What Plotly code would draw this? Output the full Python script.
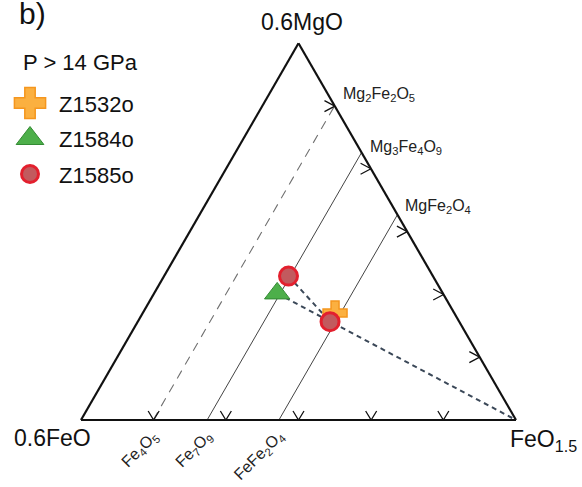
import math
import plotly.graph_objects as go

W, H = 582, 487

# ---------------- data (ternary: a = 0.6MgO, b = 0.6FeO, c = FeO1.5) ----------------
vertex_labels = ["0.6MgO", "0.6FeO", "FeO<sub>1.5</sub>"]
panel_label = "b)"
legend_title = "P > 14 GPa"
series_names = ["Z1532o", "Z1584o", "Z1585o"]

z1532o_a = [0.284]
z1532o_b = [0.274]
z1532o_c = [0.442]

z1584o_a = [0.336]
z1584o_b = [0.381]
z1584o_c = [0.283]

z1585o_a = [0.382, 0.261]
z1585o_b = [0.332, 0.297]
z1585o_c = [0.286, 0.442]

# Fe-oxide / Mg-Fe-oxide joins (constant FeO1.5 fraction)
join_c = [0.166, 0.290, 0.455]
join_bottom_labels = ["Fe<sub>4</sub>O<sub>5</sub>", "Fe<sub>7</sub>O<sub>9</sub>",
                      "FeFe<sub>2</sub>O<sub>4</sub>"]
join_right_labels = ["Mg<sub>2</sub>Fe<sub>2</sub>O<sub>5</sub>",
                     "Mg<sub>3</sub>Fe<sub>4</sub>O<sub>9</sub>",
                     "MgFe<sub>2</sub>O<sub>4</sub>"]

# arrow-tick fractions along the bottom and right edges
tick_fracs = [0.167, 0.333, 0.500, 0.667, 0.833]

# ---------------- styles ----------------
FONT = "Arial, 'Liberation Sans', Helvetica, sans-serif"
join_styles = [dict(color="#707070", width=1.1, dash="9px,7px"),
               dict(color="#444444", width=1.0),
               dict(color="#444444", width=1.0)]
tie_style = dict(color="#3b4858", width=2, dash="5px,4px")
marker_styles = [
    dict(symbol="cross", size=20, color="#FBB040", line=dict(color="#F5961E", width=1.5)),
    dict(symbol="triangle-up", size=22, color="#4DAF4A", line=dict(color="#338A33", width=1)),
    dict(symbol="circle", size=18, color="#C25A5E", line=dict(color="#E3202E", width=3)),
]
legend_marker_sizes = [26, 24, 17]

# ---------------- geometry ----------------
TRI_L, TRI_R, TRI_B = 81.0, 516.0, 420.0
SIDE = TRI_R - TRI_L
S3 = math.sqrt(3) / 2
TRI_H = SIDE * S3
TRI_T = TRI_B - TRI_H


def cart_to_tern(x, y):
    a = y / S3
    c = x - a / 2
    return a, 1 - a - c, c


def tern_to_px(a, b, c):
    s = a + b + c
    return TRI_L + SIDE * (c + a / 2) / s, TRI_B - TRI_H * a / s


def px_to_paper(x, y):
    return x / W, 1 - y / H


fig = go.Figure()

# join lines
for cval, st in zip(join_c, join_styles):
    fig.add_trace(go.Scatterternary(
        a=[0, 1 - cval], b=[1 - cval, 0], c=[cval, cval], mode="lines",
        line=st, showlegend=False, hoverinfo="skip"))

# arrow ticks
ta, tb, tc = [], [], []
CH_HALF = 5.5 / SIDE
CH_LEN = 9.0 / SIDE
for f in tick_fracs:
    for (x, y) in [(f - CH_HALF, CH_LEN), (f, 0.0), (f + CH_HALF, CH_LEN)]:
        a, b, c = cart_to_tern(x, y)
        ta.append(a); tb.append(b); tc.append(c)
    ta.append(None); tb.append(None); tc.append(None)
    ex, ey = 0.5 + 0.5 * f, S3 * (1 - f)
    for (x, y) in [(ex - 1.15 * CH_LEN, ey + CH_HALF), (ex, ey), (ex - 1.15 * CH_LEN, ey - CH_HALF)]:
        a, b, c = cart_to_tern(x, y)
        ta.append(a); tb.append(b); tc.append(c)
    ta.append(None); tb.append(None); tc.append(None)
fig.add_trace(go.Scatterternary(a=ta, b=tb, c=tc, mode="lines",
                                line=dict(color="#111111", width=1.3),
                                showlegend=False, hoverinfo="skip", connectgaps=False))

# tie lines
fig.add_trace(go.Scatterternary(a=[z1584o_a[0], 0], b=[z1584o_b[0], 0], c=[z1584o_c[0], 1],
                                mode="lines", line=tie_style, showlegend=False, hoverinfo="skip"))
fig.add_trace(go.Scatterternary(a=z1585o_a, b=z1585o_b, c=z1585o_c,
                                mode="lines", line=tie_style, showlegend=False, hoverinfo="skip"))

# data markers
series = [(z1532o_a, z1532o_b, z1532o_c), (z1584o_a, z1584o_b, z1584o_c),
          (z1585o_a, z1585o_b, z1585o_c)]
for name, (a, b, c), ms in zip(series_names, series, marker_styles):
    fig.add_trace(go.Scatterternary(a=a, b=b, c=c, mode="markers", name=name,
                                    marker=ms, showlegend=False, cliponaxis=False))

# custom legend (overlay cartesian axes in pixel units)
LEG_X, LEG_TEXT_X, LEG_Y0, LEG_DY, LEG_TITLE_Y = 30, 57, 103, 35.5, 63
annotations = []
for i, (name, ms, lsz) in enumerate(zip(series_names, marker_styles, legend_marker_sizes)):
    y = LEG_Y0 + i * LEG_DY
    m = dict(ms); m["size"] = lsz
    fig.add_trace(go.Scatter(x=[LEG_X], y=[y], mode="markers", marker=m,
                             showlegend=False, hoverinfo="skip", xaxis="x", yaxis="y"))
    px, py = px_to_paper(LEG_TEXT_X, y + 1)
    annotations.append(dict(text=name, x=px, y=py, xref="paper", yref="paper",
                            xanchor="left", yanchor="middle", showarrow=False,
                            font=dict(size=22, color="#111111", family=FONT)))
px, py = px_to_paper(21, LEG_TITLE_Y)
annotations.append(dict(text=legend_title, x=px, y=py, xref="paper", yref="paper",
                        xanchor="left", yanchor="middle", showarrow=False,
                        font=dict(size=22, color="#111111", family=FONT)))

# panel label
px, py = px_to_paper(17, 13)
annotations.append(dict(text=panel_label, x=px, y=py, xref="paper", yref="paper",
                        xanchor="left", yanchor="middle", showarrow=False,
                        font=dict(size=30, color="#111111", family=FONT)))

# vertex labels
vx = [tern_to_px(1, 0, 0), tern_to_px(0, 1, 0), tern_to_px(0, 0, 1)]
v_shift = [(3, -21, "center"), (-29, 18, "center"), (-8, 20, "left")]
for lab, (x, y), (dx, dy, xa) in zip(vertex_labels, vx, v_shift):
    px, py = px_to_paper(x + dx, y + dy)
    annotations.append(dict(text=lab, x=px, y=py, xref="paper", yref="paper",
                            xanchor=xa, yanchor="middle", showarrow=False,
                            font=dict(size=23, color="#111111", family=FONT)))

# join labels
right_dy = [-11, -5, -8]
for cval, lab_b, lab_r, dy in zip(join_c, join_bottom_labels, join_right_labels, right_dy):
    bx, by = tern_to_px(0, 1 - cval, cval)
    px, py = px_to_paper(bx + 12, by + 4)
    annotations.append(dict(text=lab_b, x=px, y=py, xref="paper", yref="paper",
                            xanchor="right", yanchor="top", textangle=-45, showarrow=False,
                            font=dict(size=16, color="#222222", family=FONT)))
    rx, ry = tern_to_px(1 - cval, 0, cval)
    px, py = px_to_paper(rx + 6, ry + dy)
    annotations.append(dict(text=lab_r, x=px, y=py, xref="paper", yref="paper",
                            xanchor="left", yanchor="middle", showarrow=False,
                            font=dict(size=16, color="#222222", family=FONT)))

axis_common = dict(showline=True, linecolor="#111111", linewidth=2.2, showgrid=False,
                   showticklabels=False, ticks="", title=dict(text=""))

fig.update_layout(
    width=W, height=H,
    margin=dict(l=0, r=0, t=0, b=0),
    paper_bgcolor="white", plot_bgcolor="rgba(0,0,0,0)",
    showlegend=False,
    ternary=dict(
        sum=1,
        domain=dict(x=[TRI_L / W, TRI_R / W], y=[(H - TRI_B) / H, (H - TRI_T) / H]),
        bgcolor="white",
        aaxis=axis_common, baxis=axis_common, caxis=axis_common,
    ),
    xaxis=dict(range=[0, W], visible=False, domain=[0, 1], fixedrange=True),
    yaxis=dict(range=[H, 0], visible=False, domain=[0, 1], fixedrange=True),
    annotations=annotations,
    font=dict(family=FONT),
)

fig.write_html("out.html", config={"displayModeBar": False},
               post_script="document.body.style.margin='0';document.body.style.padding='0';")
